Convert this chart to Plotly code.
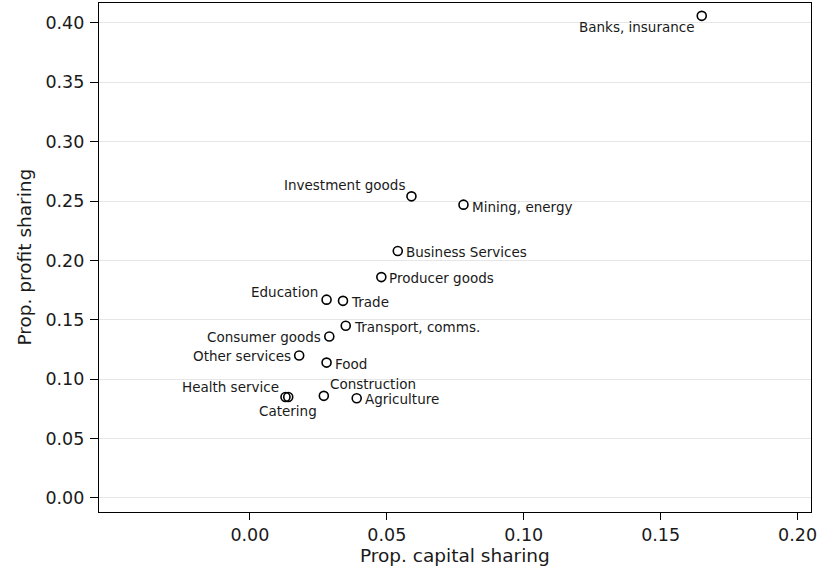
import plotly.graph_objects as go

# ---- data ----
sectors = ["Banks, insurance", "Investment goods", "Mining, energy", "Business Services",
           "Producer goods", "Education", "Trade", "Transport, comms.", "Consumer goods",
           "Other services", "Food", "Construction", "Agriculture", "Health service", "Catering"]
capital_share = [0.165, 0.059, 0.078, 0.054, 0.048, 0.028, 0.034, 0.035, 0.029,
                 0.018, 0.028, 0.027, 0.039, 0.013, 0.014]
profit_share = [0.406, 0.254, 0.247, 0.208, 0.186, 0.167, 0.166, 0.145, 0.136,
                0.120, 0.114, 0.086, 0.084, 0.085, 0.085]
x_ticks = [0.00, 0.05, 0.10, 0.15, 0.20]
y_ticks = [0.00, 0.05, 0.10, 0.15, 0.20, 0.25, 0.30, 0.35, 0.40]
x_title = "Prop. capital sharing"
y_title = "Prop. profit sharing"

# ---- label placement (style, per sector) ----
label_pos = {
    "Banks, insurance": ("right", -5, -11),
    "Investment goods": ("right", -4, 11),
    "Mining, energy": ("left", 7, -2),
    "Business Services": ("left", 6, -1),
    "Producer goods": ("left", 6, -1),
    "Education": ("right", -7, 8),
    "Trade": ("left", 6, -1),
    "Transport, comms.": ("left", 6, -1),
    "Consumer goods": ("right", -6, -1),
    "Other services": ("right", -6, -1),
    "Food": ("left", 6, -1),
    "Construction": ("left", 4, 12),
    "Agriculture": ("left", 6, -1),
    "Health service": ("right", -4, 10),
    "Catering": ("center", 0, -14),
}

FONT = "DejaVu Sans"
TXT = "#1a1a1a"
TICK_SIZE = 17.5

fig = go.Figure()
fig.add_trace(go.Scatter(
    x=capital_share, y=profit_share, mode="markers",
    marker=dict(symbol="circle-open", size=9, color="black", line=dict(width=1.6, color="black")),
    hoverinfo="text", text=sectors, showlegend=False,
))

annotations = []
for name, xv, yv in zip(sectors, capital_share, profit_share):
    anchor, dx, dy = label_pos[name]
    annotations.append(dict(
        x=xv, y=yv, xref="x", yref="y", text=name, showarrow=False,
        xanchor=anchor, yanchor="middle", xshift=dx, yshift=dy,
        font=dict(family=FONT, size=13.5, color=TXT),
    ))

# axis titles as paper annotations for exact placement
annotations.append(dict(
    x=0.5, y=-0.0864, xref="paper", yref="paper", text=x_title, showarrow=False,
    xanchor="center", yanchor="middle", font=dict(family=FONT, size=18.5, color=TXT),
))
annotations.append(dict(
    x=-0.1053, y=0.5, xref="paper", yref="paper", text=y_title, showarrow=False,
    xanchor="center", yanchor="middle", textangle=-90, font=dict(family=FONT, size=18.5, color=TXT),
))

fig.update_layout(
    width=818, height=571,
    margin=dict(l=99, r=7, t=3, b=59),
    paper_bgcolor="white", plot_bgcolor="white",
    font=dict(family=FONT, color=TXT),
    annotations=annotations,
    xaxis=dict(
        range=[-0.0551, 0.2049], tickvals=x_ticks, tickformat=".2f",
        showgrid=False, zeroline=False, automargin=False,
        showline=True, linecolor="black", linewidth=1.3, mirror=True,
        ticks="outside", ticklen=7, tickcolor="black", tickwidth=1,
        ticklabeloverflow="allow",
        tickfont=dict(family=FONT, size=TICK_SIZE, color=TXT),
    ),
    yaxis=dict(
        range=[-0.0118, 0.4168], tickvals=y_ticks, tickformat=".2f",
        showgrid=True, gridcolor="#e6e6e6", gridwidth=1, zeroline=False, automargin=False,
        showline=True, linecolor="black", linewidth=1.3, mirror=True,
        ticks="outside", ticklen=8, tickcolor="black", tickwidth=1,
        ticklabelstandoff=2, ticklabeloverflow="allow",
        tickfont=dict(family=FONT, size=TICK_SIZE, color=TXT),
    ),
)

fig.write_html(
    "out.html",
    config={"displayModeBar": False, "responsive": False},
    post_script="document.body.style.margin='0';document.body.style.overflow='hidden';",
)

# also make sure the page body has no default margin
with open("out.html", "r", encoding="utf-8") as f:
    html = f.read()
html = html.replace("<body>", '<body style="margin:0;padding:0;overflow:hidden">', 1)
with open("out.html", "w", encoding="utf-8") as f:
    f.write(html)
